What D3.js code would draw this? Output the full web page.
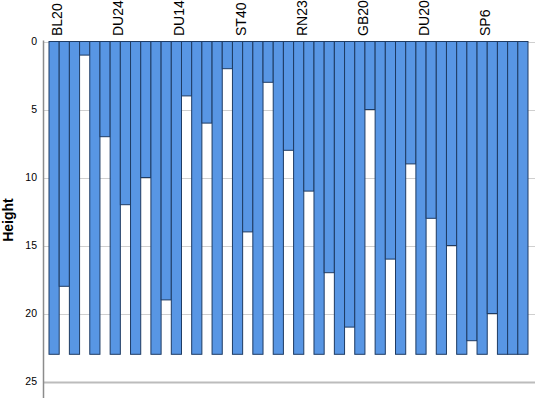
<!DOCTYPE html>
<html lang="en">

<head>
    <meta charset="utf-8">
    <script src="https://d3js.org/d3.v7.min.js"></script>
    <style>
        body { margin: 0; background: #fff; }
        text { font-family: "Liberation Sans", Arial, sans-serif; }
    </style>
</head>

<body>
    <div id="my_dataviz"></div>
</body>

<script>
    // icicle plot: one column per case, one between each pair of neighbouring cases
    const caseHeights = [23, 23, 23, 23, 23, 23, 23, 23, 23, 23, 23, 23,
        23, 23, 23, 23, 23, 23, 23, 23, 23, 23, 23, 23];
    const joinHeights = [18, 1, 7, 12, 10, 19, 4, 6, 2, 14, 3, 8,
        11, 17, 21, 5, 16, 9, 13, 15, 22, 20, 23];
    // only every third case gets a label
    const labelCases = [0, 3, 6, 9, 12, 15, 18, 21];
    const caseLabels = ["BL20", "DU24", "DU14", "ST40", "RN23", "GB20", "DU20", "SP6"];
    const yTicks = [0, 5, 10, 15, 20, 25];

    const width = 536, height = 401;
    const plot = { left: 43, right: 535, top: 41.5, bottom: 381.5 };

    // interleave cases and joins into columns
    const columns = [];
    caseHeights.forEach((h, i) => {
        columns.push({ id: "c" + i, value: h });
        if (i < joinHeights.length) columns.push({ id: "j" + i, value: joinHeights[i] });
    });

    const svg = d3.select("#my_dataviz")
        .append("svg")
        .attr("width", width)
        .attr("height", height);

    const x = d3.scaleBand()
        .domain(columns.map(d => d.id))
        .range([49, 528])
        .padding(0);

    const y = d3.scaleLinear()
        .domain([0, 25])
        .range([plot.top, plot.bottom]);

    // grid lines
    svg.append("g")
        .selectAll("line")
        .data(yTicks)
        .join("line")
        .attr("x1", plot.left)
        .attr("x2", plot.right)
        .attr("y1", d => Math.round(y(d)) + 0.5)
        .attr("y2", d => Math.round(y(d)) + 0.5)
        .attr("stroke", d => d == 25 ? "#bcbcbc" : "#cfcfcf")
        .attr("stroke-width", d => d == 25 ? 2 : 1);

    // bars
    svg.append("g")
        .selectAll("rect")
        .data(columns)
        .join("rect")
        .attr("x", d => x(d.id))
        .attr("y", y(0))
        .attr("width", x.bandwidth())
        .attr("height", d => y(d.value) - y(0))
        .attr("fill", "#5896e4")
        .attr("stroke", "#1e3b63")
        .attr("stroke-width", 1);

    // y axis
    const yAxis = svg.append("g")
        .attr("transform", `translate(${plot.left},0)`)
        .call(d3.axisLeft(y).tickValues(yTicks).tickSize(0).tickPadding(6));
    yAxis.select(".domain").remove();
    yAxis.selectAll("text")
        .style("font-size", "10.5px")
        .style("fill", "#000");
    svg.append("line")
        .attr("x1", plot.left + 0.5)
        .attr("x2", plot.left + 0.5)
        .attr("y1", plot.top - 1)
        .attr("y2", 398)
        .attr("stroke", "#8c8c8c")
        .attr("stroke-width", 1.5);

    svg.append("text")
        .attr("transform", "translate(13,220) rotate(-90)")
        .attr("text-anchor", "middle")
        .style("font-size", "14px")
        .style("font-weight", "bold")
        .text("Height");

    // case labels on top
    svg.append("g")
        .selectAll("text")
        .data(labelCases)
        .join("text")
        .attr("transform", (d, i) => `translate(${x("c" + d) + x.bandwidth() / 2 + 8},36) rotate(-90)`)
        .attr("text-anchor", "start")
        .style("font-size", "14px")
        .text((d, i) => caseLabels[i]);
</script>

</html>
